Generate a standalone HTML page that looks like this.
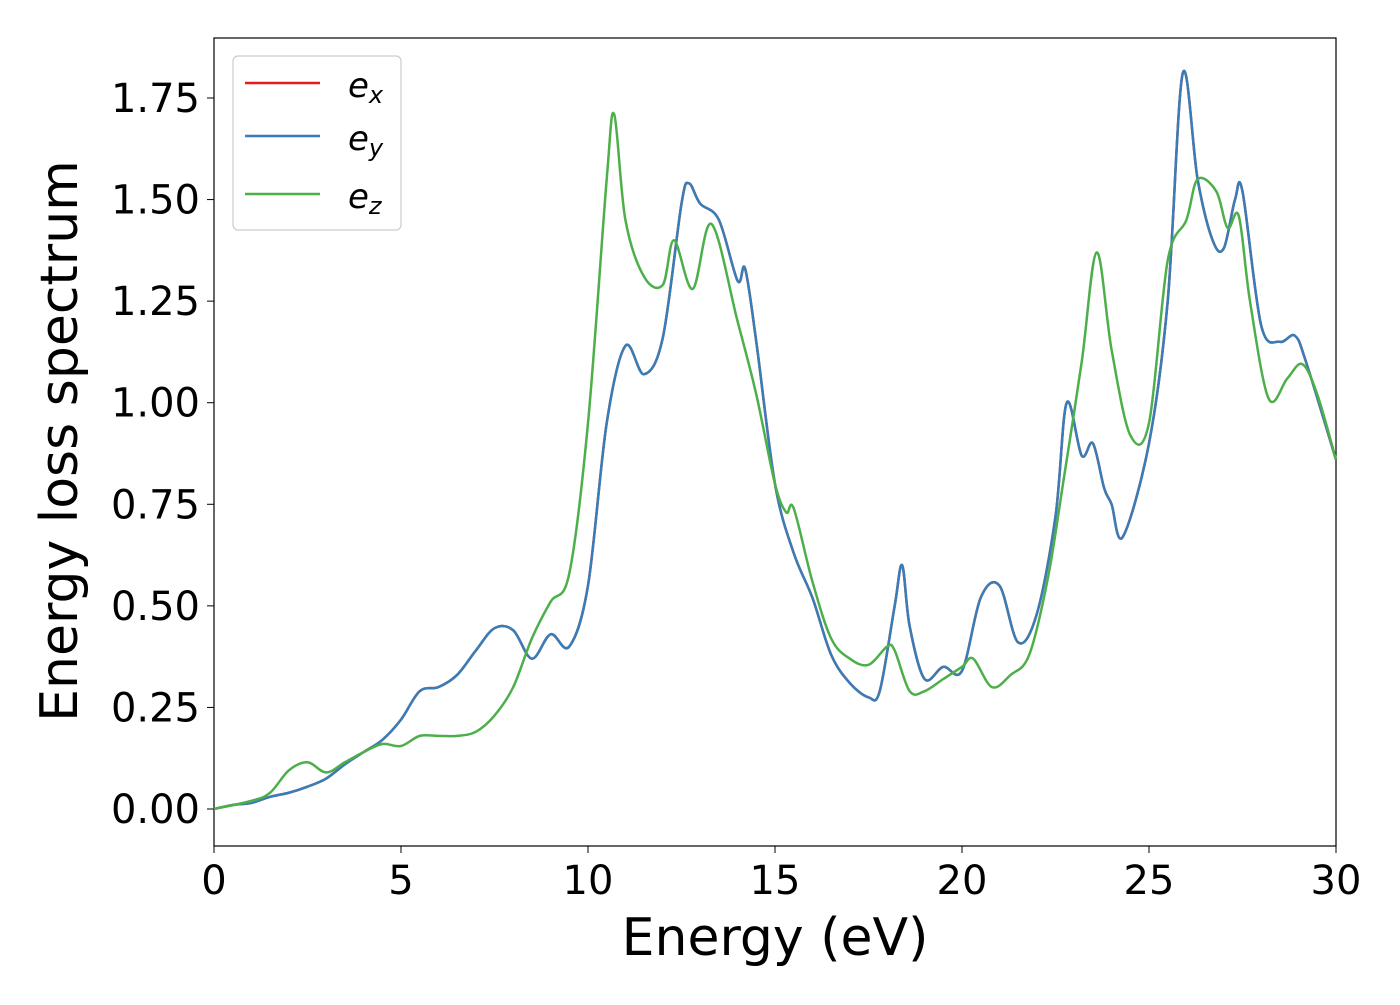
<!DOCTYPE html>
<html><head><meta charset="utf-8"><style>
body{margin:0;background:#fff;}
svg text{font-family:"DejaVu Sans","Liberation Sans",sans-serif;fill:#000;}
</style></head><body>
<svg width="1400" height="1000" xmlns="http://www.w3.org/2000/svg">
<rect x="214" y="38" width="1122" height="808" fill="#fff" stroke="#000" stroke-width="1.2"/>
<g id="xt"></g>
<g id="yt"></g>
<g id="series"></g>
<text x="775" y="955" font-size="52" text-anchor="middle">Energy (eV)</text>
<text transform="translate(77,441) rotate(-90)" font-size="52" text-anchor="middle">Energy loss spectrum</text>
<g>
<rect x="233" y="56" width="168" height="174" rx="5" fill="#fff" fill-opacity="0.8" stroke="#ccc" stroke-width="1.2"/>
<line x1="245" y1="83" x2="320" y2="83" stroke="#e41a1c" stroke-width="2.5"/>
<text x="348" y="97" font-size="34" font-style="italic">e<tspan font-size="24" dy="6">x</tspan></text>
<line x1="245" y1="136" x2="320" y2="136" stroke="#377eb8" stroke-width="2.5"/>
<text x="348" y="150" font-size="34" font-style="italic">e<tspan font-size="24" dy="6">y</tspan></text>
<line x1="245" y1="194" x2="320" y2="194" stroke="#4daf4a" stroke-width="2.5"/>
<text x="348" y="208" font-size="34" font-style="italic">e<tspan font-size="24" dy="6">z</tspan></text>
</g>
</svg>
<script>
const xTicks=[0,5,10,15,20,25,30];
const yTicks=[0,0.25,0.5,0.75,1.0,1.25,1.5,1.75];
const eyX=[0,0.5,1,1.5,2,2.5,3,3.5,4,4.5,5,5.5,6,6.5,7,7.5,8,8.5,9,9.5,10,10.5,11,11.5,12,12.5,12.7,13,13.5,14,14.2,14.5,15,15.5,16,16.5,17,17.5,17.8,18.2,18.4,18.6,19,19.5,20,20.5,21,21.5,22,22.5,22.8,23.2,23.5,23.8,24,24.3,25,25.5,25.9,26.3,26.7,27,27.3,27.5,28,28.5,28.9,29.2,30];
const eyY=[0,0.01,0.015,0.03,0.04,0.055,0.075,0.11,0.14,0.17,0.22,0.29,0.30,0.33,0.39,0.445,0.44,0.37,0.43,0.40,0.55,0.95,1.14,1.07,1.16,1.49,1.54,1.49,1.45,1.30,1.33,1.15,0.80,0.63,0.52,0.38,0.31,0.275,0.29,0.50,0.60,0.45,0.32,0.35,0.34,0.52,0.55,0.41,0.48,0.72,1.00,0.87,0.90,0.79,0.75,0.67,0.90,1.25,1.81,1.55,1.40,1.38,1.50,1.52,1.19,1.15,1.165,1.10,0.86];
const exX=eyX.slice();
const exY=eyY.slice();
const ezX=[0,1,1.5,2,2.5,3,3.5,4,4.5,5,5.5,6,6.5,7,7.5,8,8.5,9,9.5,10,10.5,10.7,11,11.5,12,12.3,12.8,13.3,14,14.5,15,15.3,15.5,16,16.5,17,17.5,18,18.2,18.6,19,19.5,20,20.3,20.8,21.3,21.8,22.3,22.7,23.2,23.6,24,24.5,25,25.5,26,26.3,26.8,27.1,27.4,27.7,28.2,28.7,29.1,29.5,30];
const ezY=[0,0.02,0.04,0.095,0.115,0.09,0.115,0.14,0.16,0.155,0.18,0.18,0.18,0.19,0.23,0.30,0.42,0.51,0.58,0.95,1.55,1.71,1.45,1.31,1.29,1.40,1.28,1.44,1.20,1.02,0.80,0.73,0.74,0.56,0.42,0.37,0.355,0.40,0.39,0.29,0.29,0.32,0.35,0.37,0.30,0.33,0.38,0.57,0.80,1.10,1.37,1.13,0.92,0.95,1.35,1.45,1.55,1.52,1.43,1.46,1.25,1.01,1.06,1.095,1.02,0.86];
const NS='http://www.w3.org/2000/svg';
const X0=214,X1=1336,Y0=809,Y175=98;
function sx(v){return X0+(v-0)/30*(X1-X0);}
function sy(v){return Y0-(v/1.75)*(Y0-Y175);}
const xt=document.getElementById('xt');
xTicks.forEach(t=>{
  const l=document.createElementNS(NS,'line');
  l.setAttribute('x1',sx(t));l.setAttribute('x2',sx(t));l.setAttribute('y1',846);l.setAttribute('y2',853);l.setAttribute('stroke','#000');
  
  
  xt.appendChild(l);
  const tx=document.createElementNS(NS,'text');
  tx.setAttribute('x',sx(t));tx.setAttribute('y',894);tx.setAttribute('font-size','40');tx.setAttribute('text-anchor','middle');
  tx.textContent=t;
  
  
  xt.appendChild(tx);
});
const yt=document.getElementById('yt');
yTicks.forEach(t=>{
  const l=document.createElementNS(NS,'line');
  l.setAttribute('x1',207);l.setAttribute('x2',214);l.setAttribute('y1',sy(t));l.setAttribute('y2',sy(t));l.setAttribute('stroke','#000');
  
  
  yt.appendChild(l);
  const tx=document.createElementNS(NS,'text');
  tx.setAttribute('x',200);tx.setAttribute('y',sy(t)+14);tx.setAttribute('font-size','40');tx.setAttribute('text-anchor','end');
  tx.textContent=t.toFixed(2);
  
  
  yt.appendChild(tx);
});
function pathFor(xs,ys){
  const p=xs.map((x,i)=>[sx(x),sy(ys[i])]);
  let d='M'+p[0][0]+','+p[0][1];
  for(let i=0;i<p.length-1;i++){
    const p0=p[Math.max(0,i-1)],p1=p[i],p2=p[i+1],p3=p[Math.min(p.length-1,i+2)];
    const c1x=p1[0]+(p2[0]-p0[0])/6,c1y=p1[1]+(p2[1]-p0[1])/6;
    const c2x=p2[0]-(p3[0]-p1[0])/6,c2y=p2[1]-(p3[1]-p1[1])/6;
    d+=' C'+c1x+','+c1y+' '+c2x+','+c2y+' '+p2[0]+','+p2[1];
  }
  return d;
}
const g=document.getElementById('series');
[[exX,exY,'#e41a1c','line-ex'],[eyX,eyY,'#377eb8','line-ey'],[ezX,ezY,'#4daf4a','line-ez']].forEach(s=>{
  const p=document.createElementNS(NS,'path');
  p.setAttribute('d',pathFor(s[0],s[1]));
  p.setAttribute('fill','none');p.setAttribute('stroke',s[2]);p.setAttribute('stroke-width','2.5');
  
  
  g.appendChild(p);
});
</script>
</body></html>
